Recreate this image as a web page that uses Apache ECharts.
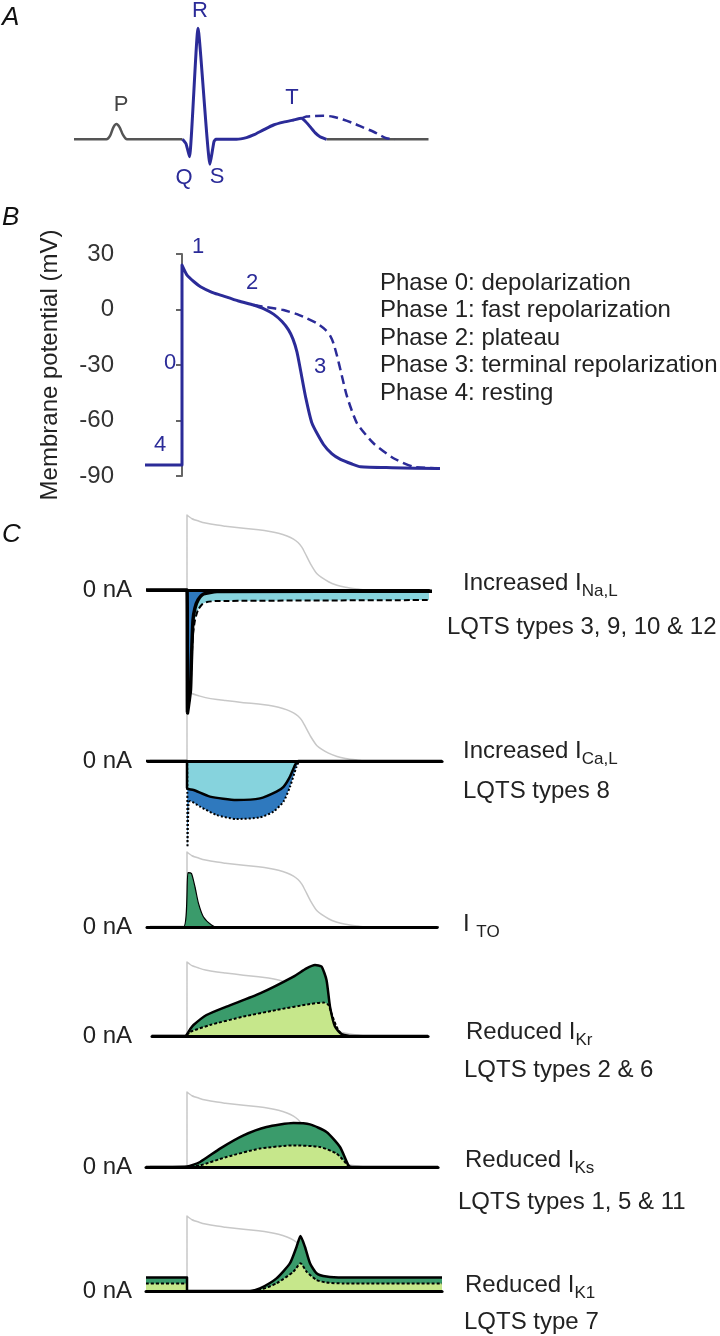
<!DOCTYPE html>
<html><head><meta charset="utf-8">
<script src="https://cdn.jsdelivr.net/npm/echarts@6/dist/echarts.min.js"></script>
<style>html,body{margin:0;padding:0;background:#fff}#c{width:720px;height:1336px}</style>
</head><body><div id="c"></div>
<script>
// ================= DATA =================
// Panel A: ECG (time ms, amplitude mV)
const ecgBaseline1 = [[0,0],[65,0],[72,0.03],[79,0.11],[85,0.138],[91,0.11],[98,0.04],[106,0],[217,0]];
const ecgQRST = [[217,0],[224,-0.04],[231,-0.157],[248,1.0],[272,-0.225],[280,-0.02],[284,0],[325,0],[345,0.015],[359,0.039],[379,0.085],[399,0.129],[419,0.155],[439,0.174],[455,0.189],[463,0.16],[472,0.114],[482,0.06],[492,0.023],[505,0]];
const ecgTLong = [[455,0.189],[465,0.205],[479,0.21],[498,0.212],[518,0.204],[538,0.178],[559,0.144],[579,0.105],[599,0.068],[613,0.035],[625,0.009],[642,0]];
const ecgBaseline2 = [[505,0],[709,0]];
const ecgWaveLabels = ['P','Q','R','S','T'];

// Panel B: action potential (time ms, mV)
const apNormal = [[-74,-84],[0,-84],[0,24],[10,18.6],[24,15],[37,12.3],[60,9.3],[77,7.8],[113,4.6],[143,2.4],[163,0.5],[183,-2.5],[200,-6.5],[213,-11],[222,-16],[230,-23],[237,-32.7],[247,-47],[260,-61.5],[283,-73],[300,-78],[317,-81],[340,-83.5],[357,-85],[420,-85.5],[516,-86]];
const apLong = [[143,2.4],[170,1.2],[203,-0.3],[230,-2.5],[250,-4.8],[270,-7.5],[287,-11],[297,-14.5],[303,-18.3],[310,-25],[317,-32.7],[330,-47],[350,-61.5],[383,-72.3],[423,-80.4],[463,-85],[516,-85.8]];
const apTickValues = [-90,-60,-30,0,30];
const phaseNumbers = ['1','0','4','2','3'];
const phaseLines = ['Phase 0: depolarization','Phase 1: fast repolarization','Phase 2: plateau','Phase 3: terminal repolarization','Phase 4: resting'];

// Panel C: ionic currents (time ms, nA)
const iNaWT   = [[-82,0],[0,0],[1,-6.15],[4,-5.6],[7,-5.0],[9,-3.4],[12,-1.5],[16,-0.9],[22,-0.5],[33,-0.2],[60,-0.08],[510,-0.06]];
const iNaLate = [[-82,0],[0,0],[1,-6.15],[4,-5.6],[7,-5.0],[9,-3.6],[12,-2.2],[16,-1.5],[22,-1.0],[30,-0.72],[40,-0.6],[60,-0.55],[510,-0.5]];
const iCaWT   = [[-82,0],[0,0],[0,-1.35],[3,-1.4],[13,-1.45],[46,-1.78],[99,-1.95],[146,-1.87],[179,-1.53],[193,-1.29],[206,-0.78],[216,-0.2],[223,0],[510,0]];
const iCaInc  = [[-82,0],[0,0],[1,-4.3],[3,-2.2],[6,-2.0],[26,-2.28],[59,-2.7],[99,-2.9],[146,-2.82],[173,-2.53],[193,-2.03],[206,-1.29],[219,-0.29],[226,0],[510,0]];
const iTo     = [[-82,0],[-7,0],[2,2.72],[9,2.68],[16,2.0],[23,1.18],[33,0.5],[49,0.1],[60,0],[510,0]];
const iKrWT   = [[-70,0],[-4,0],[6,0.33],[13,0.55],[39,1.05],[79,1.47],[146,2.13],[213,2.97],[239,3.38],[256,3.55],[269,3.47],[279,2.8],[286,1.47],[296,0.47],[309,0.1],[326,0],[482,0]];
const iKrRed  = [[-70,0],[-4,0],[6,0.2],[46,0.55],[113,0.97],[179,1.3],[246,1.6],[273,1.67],[283,1.55],[289,1.13],[299,0.47],[309,0.1],[326,0],[482,0]];
const iKsWT   = [[-82,0],[0,0.03],[26,0.25],[66,0.92],[113,1.58],[159,2.0],[213,2.2],[246,2.13],[279,1.75],[306,1.0],[323,0.08],[330,0],[502,0]];
const iKsRed  = [[-82,0],[0,0],[26,0.08],[79,0.5],[146,0.92],[213,1.08],[266,1.0],[299,0.67],[319,0.17],[326,0],[502,0]];
const iK1WT   = [[-82,0.67],[0,0.67],[0,0],[126,0],[146,0.13],[179,0.63],[206,1.39],[219,2.2],[227,2.75],[236,2.2],[246,1.39],[259,0.89],[279,0.72],[313,0.67],[510,0.67]];
const iK1Red  = [[-82,0.38],[0,0.38],[0,0],[126,0],[146,0.05],[179,0.38],[213,0.97],[227,1.39],[239,0.97],[259,0.55],[279,0.42],[313,0.38],[510,0.38]];
const currentLabels = [['Increased I','Na,L'],['LQTS types 3, 9, 10 & 12'],['Increased I','Ca,L'],['LQTS types 8'],['I ','TO'],['Reduced I','Kr'],['LQTS types 2 & 6'],['Reduced I','Ks'],['LQTS types 1, 5 & 11'],['Reduced I','K1'],['LQTS type 7']];

// ================= STYLE / LAYOUT =================
const FONT = '"Liberation Sans", Arial, Helvetica, sans-serif';
const NAVY = '#2b2b98';
const TXT = '#222';
const BLUE = '#2f79be', CYAN = '#86d3dd', DKGREEN = '#3a9b6b', LTGREEN = '#c6e78b', APGRAY = '#c8c8c8';

const chart = echarts.init(document.getElementById('c'), null, {renderer: 'canvas'});

const grids = [], xAxes = [], yAxes = [], series = [];

// --- Panel A ---
grids.push({left: 74, top: 17.2, width: 354.5, height: 155.4, outerBoundsMode: 'none'});
xAxes.push({type: 'value', gridIndex: 0, min: 0, max: 709, show: false});
yAxes.push({type: 'value', gridIndex: 0, min: -0.3, max: 1.1, show: false});
function line(data, xi, yi, color, width, type, extra) {
  return Object.assign({type: 'line', data, xAxisIndex: xi, yAxisIndex: yi, symbol: 'none', silent: true,
    animation: false, smooth: 0, lineStyle: {color, width, type: type || 'solid', cap: 'butt', join: 'round'}}, extra || {});
}
series.push(line(ecgBaseline1, 0, 0, '#555', 2.5, 'solid', {smooth: 0.3}));
series.push(line(ecgBaseline2, 0, 0, '#555', 2.5));
series.push(line(ecgQRST, 0, 0, NAVY, 3, 'solid', {smooth: 0.15, z: 3}));
series.push(line(ecgTLong, 0, 0, NAVY, 2.5, [9, 5], {smooth: 0.3, z: 3}));

// --- Panel B ---
const bUp = 182;  // pixel of upstroke (for layout only)
grids.push({left: 126, top: 254, width: 320, height: 222, outerBoundsMode: 'none'});
xAxes.push({type: 'value', gridIndex: 1, min: -112, max: 528, show: false});
yAxes.push({type: 'value', gridIndex: 1, min: -90, max: 30, interval: 30,
  name: 'Membrane potential (mV)', nameLocation: 'middle', nameRotate: 90, nameGap: 64,
  nameTextStyle: {fontFamily: FONT, fontSize: 24, color: TXT},
  axisLine: {show: true, lineStyle: {color: '#666', width: 2}},
  axisTick: {show: true, length: 6, lineStyle: {color: '#666', width: 2}},
  splitLine: {show: false},
  axisLabel: {margin: 12, fontFamily: FONT, fontSize: 24, color: '#333',
    formatter: v => apTickValues.indexOf(v) >= 0 ? String(v) : ''}});
series.push(line(apNormal, 1, 1, NAVY, 3, 'solid', {smooth: 0.2, z: 3}));
series.push(line(apLong, 1, 1, NAVY, 2.5, [9, 5], {smooth: 0.2, z: 3}));

// --- Panel C ---
const cUp = 187, msPerPx = 2, pxPerNA = 20;
const cLayout = [
  {y0: 590,  left: 148, right: 429, apPx: 75},
  {y0: 761,  left: 148, right: 442, apPx: 71},
  {y0: 927,  left: 147, right: 437, apPx: 75},
  {y0: 1036, left: 152, right: 428, apPx: 74},
  {y0: 1167, left: 146, right: 438, apPx: 75},
  {y0: 1291, left: 146, right: 442, apPx: 75, labelShift: 12},
];
const cSeries = [
  // [data, fill, lineType, lineWidth, order]
  [[iNaLate, CYAN, [6, 3], 2], [iNaWT, BLUE, 'solid', 3.5]],
  [[iCaInc, BLUE, [2, 2], 2], [iCaWT, CYAN, 'solid', 2.5]],
  [[iTo, DKGREEN, 'solid', 1.2]],
  [[iKrWT, DKGREEN, 'solid', 2.5], [iKrRed, LTGREEN, [3, 2], 2]],
  [[iKsWT, DKGREEN, 'solid', 2.5], [iKsRed, LTGREEN, [3, 2], 2]],
  [[iK1WT, DKGREEN, 'solid', 2.5], [iK1Red, LTGREEN, [3, 2], 2]],
];
const YMIN = -8, YMAX = 7;
cLayout.forEach((p, i) => {
  const gi = 2 + i;
  const top = p.y0 - YMAX * pxPerNA, height = (YMAX - YMIN) * pxPerNA;
  grids.push({left: p.left, top, width: p.right - p.left, height, outerBoundsMode: 'none'});
  const yCur = yAxes.length;
  xAxes.push({type: 'value', gridIndex: gi, min: (p.left - cUp) * msPerPx, max: (p.right - cUp) * msPerPx,
    axisLine: {show: true, onZero: true, onZeroAxisIndex: yCur, lineStyle: {color: '#000', width: 3}},
    axisTick: {show: false}, axisLabel: {show: false}, splitLine: {show: false}, z: 10});
  yAxes.push({type: 'value', gridIndex: gi, min: YMIN, max: YMAX, interval: 1,
    axisLine: {show: false}, axisTick: {show: false}, splitLine: {show: false},
    axisLabel: {margin: p.left - 132, fontFamily: FONT, fontSize: 24, color: TXT,
      padding: p.labelShift ? [0, 0, p.labelShift, 0] : 0,
      formatter: v => v === 0 ? '0 nA' : ''}});
  const k = p.apPx / 109; // px per mV
  const yAp = yAxes.length;
  yAxes.push({type: 'value', gridIndex: gi, show: false,
    max: -85 + (p.y0 - top) / k, min: -85 - (top + height - p.y0) / k});
  series.push(line(apNormal, gi, yAp, APGRAY, 1.5, 'solid', {smooth: 0.2, z: 1}));
  const ss = cSeries[i];
  ss.forEach((s, j) => {
    series.push(line(s[0], gi, yCur, 'rgba(0,0,0,0)', 0, 'solid',
      {smooth: 0.2, z: 2 + j, areaStyle: {color: s[1], opacity: 1, origin: 'auto'}}));
  });
  // outlines: solid first then dashed on top
  const order = ss.slice().sort((a, b) => (a[2] === 'solid' ? 0 : 1) - (b[2] === 'solid' ? 0 : 1));
  order.forEach((s, j) => {
    series.push(line(s[0], gi, yCur, '#000', s[3], s[2], {smooth: 0.2, z: 5 + j}));
  });
});

// ================= TEXT (graphic) =================
const g = [];
function txt(text, x, y, size, color, opts) {
  g.push(Object.assign({type: 'text', x, y, silent: true, z: 100,
    style: Object.assign({text, fill: color, fontFamily: FONT, fontSize: size,
      align: 'left', verticalAlign: 'middle'}, (opts && opts.style) || {})}, (opts && opts.el) || {}));
}
// panel letters
txt('A', 2, 18, 26, '#111', {style: {fontStyle: 'italic'}});
txt('B', 2, 218, 26, '#111', {style: {fontStyle: 'italic'}});
txt('C', 2, 535, 26, '#111', {style: {fontStyle: 'italic'}});
// ECG wave labels
const waveLabelPos = [[121, 105, '#444'], [184, 178, NAVY], [200, 11, NAVY], [217, 177, NAVY], [292, 98, NAVY]];
ecgWaveLabels.forEach((t, i) => txt(t, waveLabelPos[i][0], waveLabelPos[i][1], 22, waveLabelPos[i][2], {style: {align: 'center'}}));
// AP phase numbers
const phaseNumPos = [[198, 247], [170, 363], [160, 445], [252, 283], [320, 367]];
phaseNumbers.forEach((t, i) => txt(t, phaseNumPos[i][0], phaseNumPos[i][1], 22, NAVY, {style: {align: 'center'}}));
// Phase legend
const phaseY = [283, 310.5, 338, 365.5, 393];
phaseLines.forEach((t, i) => txt(t, 380, phaseY[i], 24, TXT));
// current labels
const labelPos = [[463, 583], [447, 627], [463, 751], [463, 791], [463, 924], [466, 1032], [464, 1070], [465, 1160], [458, 1202], [465, 1285], [464, 1322]];
currentLabels.forEach((parts, i) => {
  const [x, y] = labelPos[i];
  if (parts.length === 1) { txt(parts[0], x, y, 24, TXT); return; }
  g.push({type: 'text', x, y, silent: true, z: 100, style: {
    text: '{m|' + parts[0] + '}{s|' + parts[1] + '}', align: 'left', verticalAlign: 'middle',
    rich: {m: {fontFamily: FONT, fontSize: 24, fill: TXT},
           s: {fontFamily: FONT, fontSize: 17, fill: TXT, padding: [16, 0, 0, 0]}}}});
});

chart.setOption({
  animation: false,
  backgroundColor: '#fff',
  grid: grids, xAxis: xAxes, yAxis: yAxes, series, graphic: g
});
</script></body></html>
